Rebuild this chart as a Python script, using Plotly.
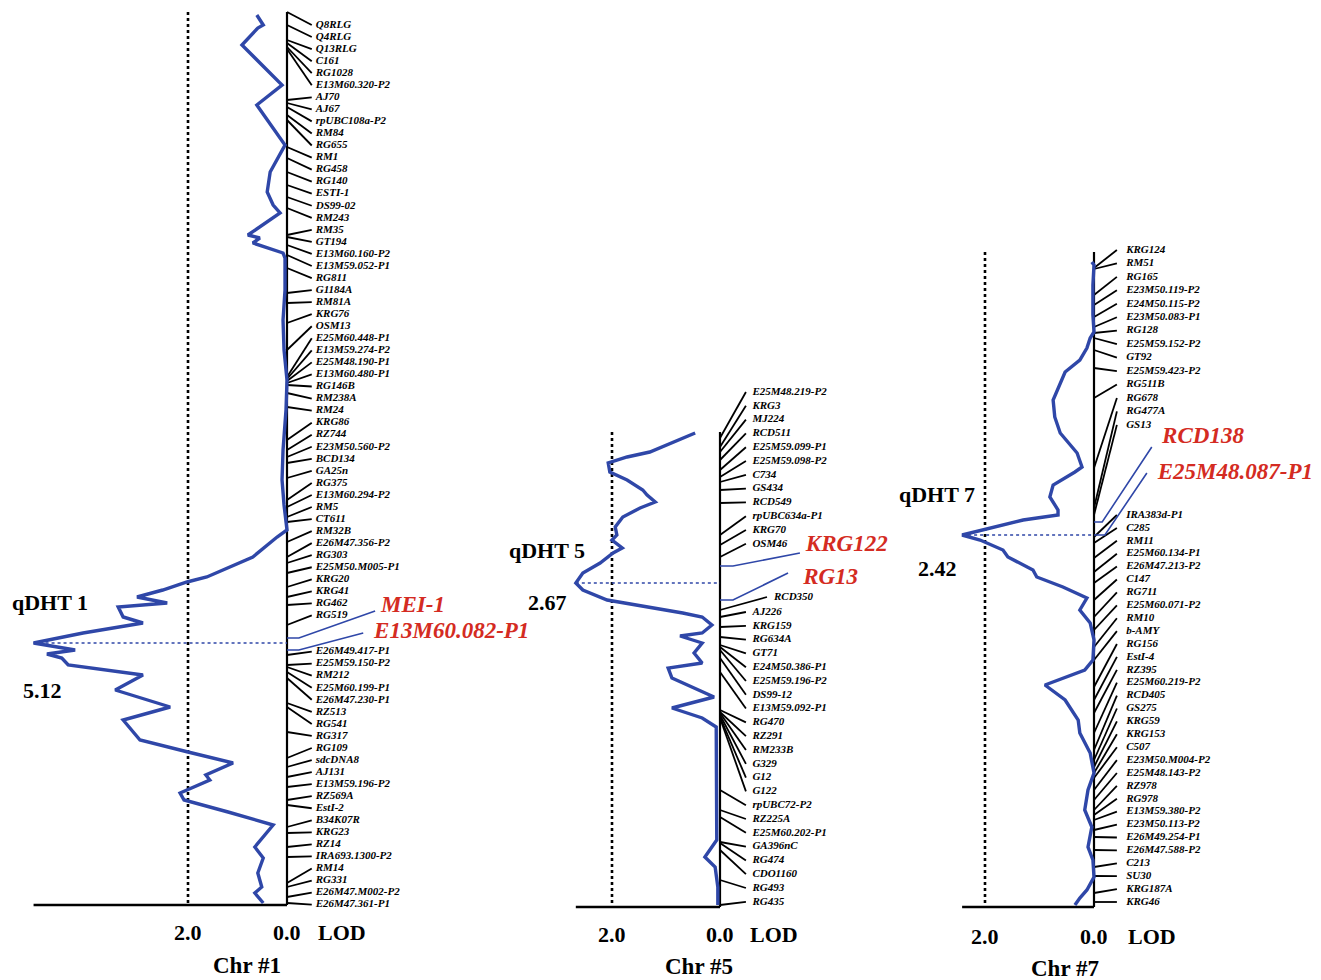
import plotly.graph_objects as go

# The page body adds an 8 px margin; all pixel positions below are screen pixels.
OFF = 8
W, H = 1321 - OFF, 980 - OFF
PX_PER_CM = 5.0
BLUE = "#2f47a8"
RED = "#d42b22"
SERIF = "Liberation Serif"

# ---------------- data ----------------
threshold = 2.0

chr1_markers = ["Q8RLG", "Q4RLG", "Q13RLG", "C161", "RG1028", "E13M60.320-P2", "AJ70", "AJ67",
                "rpUBC108a-P2", "RM84", "RG655", "RM1", "RG458", "RG140", "ESTI-1", "DS99-02",
                "RM243", "RM35", "GT194", "E13M60.160-P2", "E13M59.052-P1", "RG811", "G1184A",
                "RM81A", "KRG76", "OSM13", "E25M60.448-P1", "E13M59.274-P2", "E25M48.190-P1",
                "E13M60.480-P1", "RG146B", "RM238A", "RM24", "KRG86", "RZ744", "E23M50.560-P2",
                "BCD134", "GA25n", "RG375", "E13M60.294-P2", "RM5", "CT611", "RM32B",
                "E26M47.356-P2", "RG303", "E25M50.M005-P1", "KRG20", "KRG41", "RG462", "RG519",
                "E26M49.417-P1", "E25M59.150-P2", "RM212", "E25M60.199-P1", "E26M47.230-P1",
                "RZ513", "RG541", "RG317", "RG109", "sdcDNA8", "AJ131", "E13M59.196-P2", "RZ569A",
                "EstI-2", "B34K07R", "KRG23", "RZ14", "IRA693.1300-P2", "RM14", "RG331",
                "E26M47.M002-P2", "E26M47.361-P1"]
chr1_pos = [0.0, 2.6, 5.6, 6.2, 7.0, 7.4, 17.6, 18.2, 19.0, 20.6, 21.6, 27.0, 29.2, 32.0, 34.6,
            37.0, 39.2, 44.6, 45.0, 46.6, 48.6, 51.2, 56.2, 58.2, 62.2, 67.6, 73.0, 73.4, 73.8,
            74.2, 74.6, 76.2, 79.0, 85.6, 87.6, 89.0, 90.2, 93.2, 97.6, 99.0, 101.0, 102.0, 106.0,
            109.0, 110.2, 112.2, 115.0, 117.0, 118.6, 122.6, 128.6, 130.6, 131.0, 132.0, 133.2,
            138.2, 139.0, 144.0, 149.2, 151.0, 153.0, 155.0, 157.6, 158.6, 163.0, 164.2, 167.0,
            169.0, 174.2, 175.0, 177.0, 178.2]
chr1_length = 178.6
chr1_qtl_markers = ["MEI-1", "E13M60.082-P1"]
chr1_qtl_pos = [125.2, 127.6]
chr1_qtl = ("qDHT 1", 5.12, 126.2)
chr1_cm = [0.6, 1.6, 2.6, 3.2, 6.6, 14.6, 18.6, 26.6, 32.0, 36.0, 38.6, 40.2, 44.6, 45.2, 46.2,
           48.2, 49.2, 55.6, 61.6, 67.6, 73.6, 79.6, 87.6, 93.6, 98.6, 103.6, 105.0, 109.0, 113.0,
           114.0, 115.6, 117.0, 118.2, 119.0, 121.0, 122.2, 124.2, 126.2, 127.6, 128.4, 129.2,
           130.6, 132.6, 135.6, 139.0, 141.6, 145.6, 148.0, 150.2, 152.6, 153.6, 156.2, 157.6,
           160.0, 162.6, 167.0, 169.2, 172.2, 175.0, 176.2, 178.2]
chr1_lod = [0.61, 0.55, 0.48, 0.59, 0.91, 0.10, 0.61, 0.04, 0.34, 0.40, 0.28, 0.14, 0.79, 0.55,
            0.69, 0.08, 0.04, 0.04, 0.08, 0.06, 0.00, 0.02, 0.08, 0.10, 0.06, 0.00, 0.20, 0.69,
            1.62, 2.02, 2.51, 3.03, 2.42, 3.41, 3.31, 2.91, 4.12, 5.12, 4.28, 4.85, 4.55, 4.42,
            2.91, 3.47, 2.36, 3.31, 2.97, 2.00, 1.09, 1.64, 1.56, 2.16, 2.08, 1.19, 0.28, 0.65,
            0.48, 0.59, 0.51, 0.65, 0.48]

chr5_markers = ["E25M48.219-P2", "KRG3", "MJ224", "RCD511", "E25M59.099-P1", "E25M59.098-P2",
                "C734", "GS434", "RCD549", "rpUBC634a-P1", "KRG70", "OSM46", "RCD350", "AJ226",
                "KRG159", "RG634A", "GT71", "E24M50.386-P1", "E25M59.196-P2", "DS99-12",
                "E13M59.092-P1", "RG470", "RZ291", "RM233B", "G329", "G12", "G122", "rpUBC72-P2",
                "RZ225A", "E25M60.202-P1", "GA396nC", "RG474", "CDO1160", "RG493", "RG435"]
chr5_pos = [1.2, 3.0, 4.0, 5.6, 7.6, 9.0, 10.0, 11.6, 14.2, 20.6, 22.6, 25.0, 35.6, 37.0, 39.0,
            41.0, 42.6, 43.0, 43.6, 45.2, 48.0, 55.6, 56.0, 56.2, 56.6, 57.0, 57.2, 71.6, 75.6,
            77.0, 82.0, 82.2, 83.6, 89.6, 94.6]
chr5_length = 95.0
chr5_qtl_markers = ["KRG122", "RG13"]
chr5_qtl_pos = [26.8, 33.6]
chr5_qtl = ("qDHT 5", 2.67, 30.2)
chr5_cm = [0.2, 2.4, 4.0, 5.0, 6.2, 8.0, 9.6, 11.6, 12.6, 14.0, 15.2, 17.0, 19.0, 20.6, 21.6,
           23.2, 24.2, 26.2, 28.2, 30.2, 31.6, 33.6, 35.0, 36.2, 37.0, 38.6, 40.2, 40.8, 42.2,
           44.2, 46.2, 47.2, 49.2, 53.0, 55.2, 57.2, 59.0, 61.6, 69.6, 81.6, 85.0, 87.0, 91.0, 94.6]
chr5_lod = [0.46, 0.93, 1.30, 1.72, 2.07, 2.04, 1.72, 1.43, 1.35, 1.20, 1.48, 1.80, 1.94, 1.91,
            2.00, 1.81, 1.98, 2.22, 2.54, 2.67, 2.54, 2.09, 1.30, 0.69, 0.33, 0.15, 0.33, 0.74,
            0.33, 0.48, 0.33, 0.96, 0.89, 0.11, 0.89, 0.33, 0.07, 0.07, 0.06, 0.06, 0.28, 0.09,
            0.04, 0.04]

chr7_markers = ["KRG124", "RM51", "RG165", "E23M50.119-P2", "E24M50.115-P2", "E23M50.083-P1",
                "RG128", "E25M59.152-P2", "GT92", "E25M59.423-P2", "RG511B", "RG678", "RG477A",
                "GS13", "IRA383d-P1", "C285", "RM11", "E25M60.134-P1", "E26M47.213-P2", "C147",
                "RG711", "E25M60.071-P2", "RM10", "b-AMY", "RG156", "EstI-4", "RZ395",
                "E25M60.219-P2", "RCD405", "GS275", "KRG59", "KRG153", "C507", "E23M50.M004-P2",
                "E25M48.143-P2", "RZ978", "RG978", "E13M59.380-P2", "E23M50.113-P2",
                "E26M49.254-P1", "E26M47.588-P2", "C213", "SU30", "KRG187A", "KRG46"]
chr7_pos = [3.2, 3.4, 8.6, 10.6, 13.0, 15.0, 16.2, 17.2, 19.6, 23.2, 29.2, 43.2, 51.2, 52.6,
            57.0, 58.2, 61.2, 64.0, 66.2, 69.6, 73.0, 75.6, 79.0, 81.6, 87.0, 89.6, 92.2, 96.2,
            99.6, 101.6, 103.0, 104.2, 105.2, 107.6, 109.6, 111.6, 112.6, 113.6, 115.6, 117.0,
            119.6, 123.0, 124.8, 128.2, 130.0]
chr7_length = 131.0
chr7_qtl_markers = ["RCD138", "E25M48.087-P1"]
chr7_qtl_pos = [54.0, 56.6]
chr7_qtl = ("qDHT 7", 2.42, 56.6)
chr7_cm = [2.0, 2.6, 6.6, 12.6, 16.0, 17.2, 19.2, 21.6, 24.0, 27.6, 29.6, 33.0, 36.2, 40.2, 43.0,
           44.0, 46.6, 49.0, 51.6, 52.6, 53.6, 56.6, 57.6, 59.6, 61.0, 63.6, 65.0, 67.0, 69.2,
           71.6, 74.2, 77.6, 81.6, 83.6, 86.6, 89.6, 93.6, 96.2, 100.2, 104.2, 107.6, 111.6,
           115.0, 119.0, 121.6, 125.0, 127.6, 129.2, 130.6]
chr7_lod = [0.04, 0.00, 0.02, 0.02, 0.00, 0.07, 0.13, 0.26, 0.53, 0.68, 0.75, 0.72, 0.62, 0.31,
            0.22, 0.35, 0.75, 0.81, 0.66, 0.66, 1.30, 2.42, 2.09, 1.67, 1.58, 1.12, 1.05, 0.57,
            0.13, 0.26, 0.07, 0.00, 0.02, 0.17, 0.90, 0.53, 0.29, 0.26, 0.07, 0.00, 0.11, 0.17,
            0.04, 0.11, 0.02, 0.00, 0.13, 0.26, 0.35]


def slots(groups):
    out = []
    for start, step, n in groups:
        out += [start + step * k for k in range(n)]
    return out


# ---------------- layout of each panel (screen pixels / LOD units) ----------------
panels = [
    dict(name="Chr #1", markers=chr1_markers, pos=chr1_pos, length=chr1_length,
         qm=chr1_qtl_markers, qp=chr1_qtl_pos, qtl=chr1_qtl, cm=chr1_cm, lod=chr1_lod,
         dom=(OFF, 440), zero=287, ppl=49.5, top=12,
         labels=slots([(2.6, 2.41, 50), (2.6 + 52 * 2.41, 2.41, 22)]),
         line_end=-0.50, text_x=-0.58, special={},
         q_elbow=[-0.24, -0.24], q_end=[(-1.78, 119.8), (-1.54, 124.2)],
         q_text=[(-1.90, 118.8), (-1.76, 124.0)],
         qname_px=(50, 602), qval_px=(42, 690), lod_px=342, chr_px=(247, 965), tick_y=932),
    dict(name="Chr #5", markers=chr5_markers, pos=chr5_pos, length=chr5_length,
         qm=chr5_qtl_markers, qp=chr5_qtl_pos, qtl=chr5_qtl, cm=chr5_cm, lod=chr5_lod,
         dom=(440, 880), zero=720, ppl=54.0, top=432,
         labels=slots([(-8.0, 2.76, 12), (33.0, 0, 1), (36.0, 2.76, 22)]),
         line_end=-0.48, text_x=-0.60, special={"RCD350": (-0.87, -1.0)},
         q_elbow=[-0.24, -0.24], q_end=[(-1.48, 24.2), (-1.26, 28.2)],
         q_text=[(-1.59, 22.6), (-1.54, 29.2)],
         qname_px=(547, 550), qval_px=(547, 602), lod_px=774, chr_px=(699, 966), tick_y=934),
    dict(name="Chr #7", markers=chr7_markers, pos=chr7_pos, length=chr7_length,
         qm=chr7_qtl_markers, qp=chr7_qtl_pos, qtl=chr7_qtl, cm=chr7_cm, lod=chr7_lod,
         dom=(880, 1321), zero=1094, ppl=54.5, top=252,
         labels=slots([(-0.4, 2.69, 14), (52.6, 2.58, 31)]),
         line_end=-0.42, text_x=-0.59, special={},
         q_elbow=[-0.15, -0.20], q_end=[(-1.06, 39.0), (-0.97, 44.2)],
         q_text=[(-1.25, 37.0), (-1.17, 44.2)],
         qname_px=(937, 495), qval_px=(937, 568), lod_px=1152, chr_px=(1065, 968), tick_y=936),
]

fig = go.Figure()
annotations = []
layout_axes = {}


def px_x(px):
    return (px - OFF) / W


def px_y(py):
    return 1 - (py - OFF) / H


for i, p in enumerate(panels):
    n = "" if i == 0 else str(i + 1)
    xa, ya = "x" + n, "y" + n
    d0, d1 = p["dom"]
    xr = [(p["zero"] - d0) / p["ppl"], (p["zero"] - d1) / p["ppl"]]
    yr = [(980 - p["top"]) / PX_PER_CM, (OFF - p["top"]) / PX_PER_CM]
    layout_axes["xaxis" + n] = dict(domain=[px_x(d0), px_x(d1)], range=xr, visible=False,
                                    anchor=ya, fixedrange=True)
    layout_axes["yaxis" + n] = dict(domain=[0, 1], range=yr, visible=False, anchor=xa,
                                    fixedrange=True)
    L = p["length"]
    qname, qlod, qcm = p["qtl"]

    # threshold dotted line
    fig.add_trace(go.Scatter(x=[threshold, threshold], y=[0, L], mode="lines",
                             line=dict(color="black", width=2.6, dash="dot"),
                             xaxis=xa, yaxis=ya, hoverinfo="skip"))
    # marker connecting lines
    lx, ly, tx = [], [], []
    for m, pos, lab in zip(p["markers"], p["pos"], p["labels"]):
        le, te = p["special"].get(m, (p["line_end"], p["text_x"]))
        lx += [0, le, None]
        ly += [pos, lab, None]
        tx.append(te)
    fig.add_trace(go.Scatter(x=lx, y=ly, mode="lines", line=dict(color="black", width=1.8),
                             xaxis=xa, yaxis=ya, hoverinfo="skip"))
    # chromosome and baseline
    fig.add_trace(go.Scatter(x=[0, 0], y=[0, L], mode="lines",
                             line=dict(color="black", width=2.2),
                             xaxis=xa, yaxis=ya, hoverinfo="skip"))
    fig.add_trace(go.Scatter(x=[qlod, 0], y=[L, L], mode="lines",
                             line=dict(color="black", width=2.6),
                             xaxis=xa, yaxis=ya, hoverinfo="skip"))
    # QTL peak dotted line
    fig.add_trace(go.Scatter(x=[qlod, 0], y=[qcm, qcm], mode="lines",
                             line=dict(color=BLUE, width=1.6, dash="dot"),
                             xaxis=xa, yaxis=ya, hoverinfo="skip"))
    # LOD curve
    fig.add_trace(go.Scatter(x=p["lod"], y=p["cm"], mode="lines",
                             line=dict(color=BLUE, width=3.4),
                             xaxis=xa, yaxis=ya, hoverinfo="skip"))
    # QTL marker lines (blue)
    bx, by = [], []
    for pos, el, (ex, ey) in zip(p["qp"], p["q_elbow"], p["q_end"]):
        bx += [0, el, ex, None]
        by += [pos, pos, ey, None]
    fig.add_trace(go.Scatter(x=bx, y=by, mode="lines", line=dict(color=BLUE, width=1.6),
                             xaxis=xa, yaxis=ya, hoverinfo="skip"))
    # marker labels
    fig.add_trace(go.Scatter(x=tx, y=p["labels"], mode="text",
                             text=["<b><i>%s</i></b>" % m for m in p["markers"]],
                             textposition="middle right",
                             textfont=dict(family=SERIF, size=11, color="black"),
                             cliponaxis=False, xaxis=xa, yaxis=ya, hoverinfo="skip"))
    fig.add_trace(go.Scatter(x=[t[0] for t in p["q_text"]], y=[t[1] for t in p["q_text"]],
                             mode="text",
                             text=["<b><i>%s</i></b>" % m for m in p["qm"]],
                             textposition="middle right",
                             textfont=dict(family=SERIF, size=23, color=RED),
                             cliponaxis=False, xaxis=xa, yaxis=ya, hoverinfo="skip"))
    bold = dict(family=SERIF, size=22, color="black")
    common = dict(showarrow=False, xanchor="center", yanchor="middle")
    annotations += [
        dict(text="<b>%s</b>" % qname, x=px_x(p["qname_px"][0]), y=px_y(p["qname_px"][1]),
             xref="paper", yref="paper", font=bold, **common),
        dict(text="<b>%.2f</b>" % qlod, x=px_x(p["qval_px"][0]), y=px_y(p["qval_px"][1]),
             xref="paper", yref="paper", font=bold, **common),
        dict(text="<b>%.1f</b>" % threshold, x=threshold, xref=xa, y=px_y(p["tick_y"]),
             yref="paper", font=bold, **common),
        dict(text="<b>0.0</b>", x=0, xref=xa, y=px_y(p["tick_y"]),
             yref="paper", font=bold, **common),
        dict(text="<b>LOD</b>", x=px_x(p["lod_px"]), y=px_y(p["tick_y"]),
             xref="paper", yref="paper", font=bold, **common),
        dict(text="<b>%s</b>" % p["name"], x=px_x(p["chr_px"][0]), y=px_y(p["chr_px"][1]),
             xref="paper", yref="paper", font=dict(family=SERIF, size=23, color="black"),
             **common),
    ]

fig.update_layout(width=W, height=H, margin=dict(l=0, r=0, t=0, b=0),
                  paper_bgcolor="white", plot_bgcolor="white", showlegend=False,
                  annotations=annotations, **layout_axes)
fig.write_html("out.html")
